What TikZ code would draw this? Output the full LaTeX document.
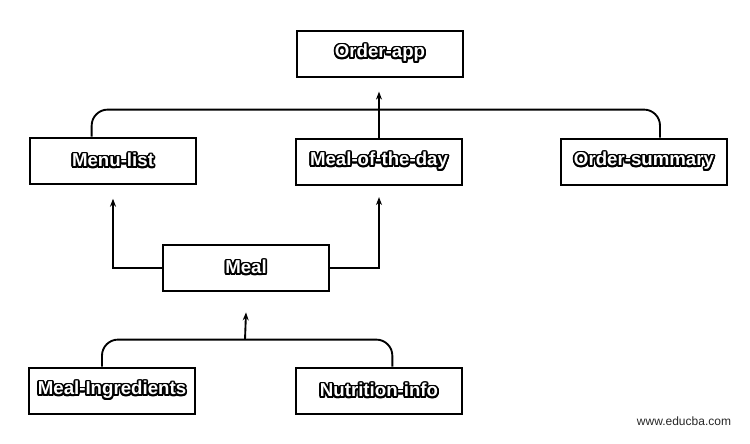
\documentclass[tikz,border=0pt]{standalone}
\usepackage{fontspec}
\setmainfont{Liberation Sans}
\usepackage{tikz}
\usetikzlibrary{arrows.meta,positioning,calc}
\usepackage{contour}
\contourlength{1.3pt}
\newcommand{\boxtext}[1]{\contour{black}{\textcolor{white}{\bfseries #1}}}

\begin{document}
\begin{tikzpicture}[x=0.75pt,y=-0.75pt,
  modbox/.style={draw,line width=1.6pt,minimum width=124pt,minimum height=35pt,inner sep=0pt,font=\fontsize{14}{16}\selectfont},
  link/.style={line width=1.4pt},
  uparrow/.style={line width=1.4pt,-{Stealth[length=6pt,width=4.5pt]}}]
\useasboundingbox (0,0) rectangle (750,443);
\node[modbox] (app) at (380,54) {\boxtext{Order-app}};
\node[modbox] (ml) at (113,161) {\boxtext{Menu-list}};
\node[modbox] (mod) at (379,162) {\boxtext{Meal-of-the-day}};
\node[modbox] (os) at (644,162) {\boxtext{Order-summary}};
\node[modbox] (meal) at (246,268) {\boxtext{Meal}};
\node[modbox] (mi) at (112,391) {\boxtext{Meal-Ingredients}};
\node[modbox] (ni) at (379,391) {\boxtext{Nutrition-info}};
\node[text=black!85,font=\fontsize{9}{11}\selectfont] (web) at (684,421) {www.educba.com};

% upper level
\draw[link,rounded corners=12pt] ([xshift=-16pt]ml.north) -- ++(0,-27) -| ([xshift=12pt]os.north);
\draw[uparrow] (mod.north) -- ++(0,-46);
\draw[uparrow] (meal.west) -| ([yshift=-10pt]ml.south);
\draw[uparrow] (meal.east) -| ([yshift=-8pt]mod.south);

% lower level
\draw[link,rounded corners=12pt] ([xshift=-7.5pt]mi.north) -- ++(0,-27) -| ([xshift=10pt]ni.north);
\draw[uparrow] ($(mi.north)!0.5!(ni.north)+(-0.5,-27)$) -- ([yshift=-15pt]meal.south);
\end{tikzpicture}
\end{document}
